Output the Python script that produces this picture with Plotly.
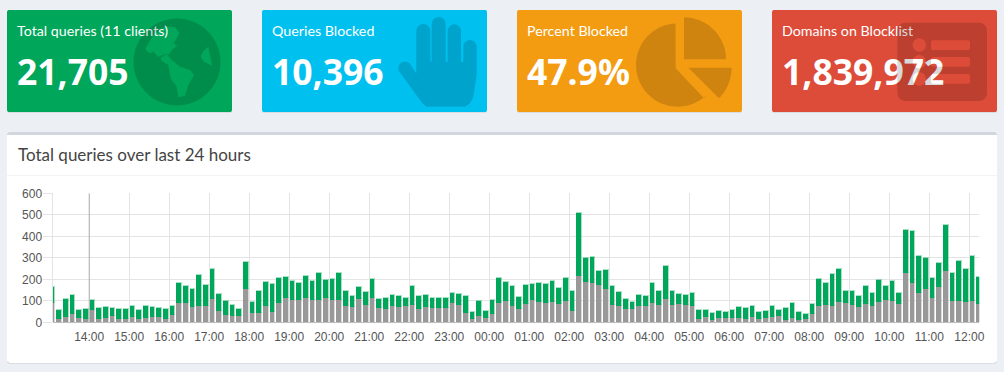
import math
import pandas as pd
import plotly.graph_objects as go

W, H = 1004, 372

card_titles = ["Total queries (11 clients)", "Queries Blocked", "Percent Blocked", "Domains on Blocklist"]
card_values = ["21,705", "10,396", "47.9%", "1,839,972"]
card_colors = ["#00a65a", "#00c0ef", "#f39c12", "#dd4b39"]
chart_title = "Total queries over last 24 hours"

blocked = [88,16,25,39,20,14,56,16,20,28,16,14,23,16,20,23,22,14,33,88,90,71,76,74,107,53,31,28,28,153,
           42,42,74,48,88,113,102,102,110,101,101,113,102,102,76,71,107,81,113,65,59,74,71,74,81,62,71,67,67,67,
           88,79,42,14,29,20,39,90,98,74,62,84,104,95,90,95,84,96,53,215,188,183,170,155,79,76,62,62,74,74,
           90,79,108,81,85,81,73,16,25,11,17,19,20,20,16,22,14,19,25,26,11,20,11,16,39,76,81,76,93,88,
           81,68,85,76,95,102,99,85,228,183,135,155,113,164,239,99,99,95,99,85]
total = [163,57,108,124,57,62,104,64,70,67,62,60,73,57,76,68,67,62,73,181,166,153,217,174,246,129,96,78,59,277,
         95,143,184,175,203,208,192,180,215,189,226,197,201,228,143,119,164,140,198,108,112,126,119,113,167,121,127,113,113,113,
         136,132,119,46,96,53,102,206,184,169,118,172,177,181,175,191,160,206,146,505,299,304,239,242,169,138,105,95,126,122,
         183,143,262,144,129,127,133,54,56,42,51,48,57,70,67,73,46,51,74,54,65,90,46,39,85,200,181,225,246,143,
         144,122,166,135,197,166,192,136,428,423,307,298,203,274,451,228,284,245,307,208]
permitted = [t - b for t, b in zip(total, blocked)]
times = pd.date_range("2024-01-01 13:05", periods=len(total), freq="10min")

BG = "#ecf0f5"
ICON = "rgba(0,0,0,0.15)"

def fx(px): return px / W
def fy(py): return 1 - py / H

def poly(pts):
    return "M" + " L".join(f"{fx(x):.5f},{fy(y):.5f}" for x, y in pts) + " Z"

def arc(cx, cy, r, a0, a1, n=24):
    # angles in degrees, clockwise on screen from +x axis
    return [(cx + r * math.cos(math.radians(a0 + (a1 - a0) * i / n)),
             cy + r * math.sin(math.radians(a0 + (a1 - a0) * i / n))) for i in range(n + 1)]

def rrect(x0, y0, x1, y1, r):
    return poly(arc(x0 + r, y0 + r, r, 180, 270, 5) + arc(x1 - r, y0 + r, r, 270, 360, 5)
                + arc(x1 - r, y1 - r, r, 0, 90, 5) + arc(x0 + r, y1 - r, r, 90, 180, 5))

shapes = []
def add(path, fill, layer="below"):
    shapes.append(dict(type="path", path=path, xref="paper", yref="paper", fillcolor=fill,
                       line=dict(width=0), layer=layer))

# cards
card_x = [7, 262, 517, 772]
for x, c in zip(card_x, card_colors):
    add(rrect(x, 11, x + 225, 113, 2), "#d8dce3")
    add(rrect(x, 10, x + 225, 112, 2), c)

# chart box
add(rrect(7, 133, 997, 364, 3), "#d8dce3")
add(rrect(7, 132, 997, 363, 3), "#d2d6de")
add(poly([(7, 135), (997, 135), (997, 361), (994, 363), (10, 363), (7, 361)]), "#ffffff")
add(poly([(7, 175), (997, 175), (997, 176), (7, 176)]), "#f4f4f4")

# globe icon
def z6(pts): return [(130 + x / 3, 15 + y / 3) for x, y in pts]
globe = poly(arc(177, 62, 43.5, 0, 360, 60))
na = [(46,100),(70,60),(105,35),(135,36),(148,55),(140,70),(130,85),(142,92),(128,102),(118,118),(105,118),(85,125),(70,110),(60,115),(50,108)]
sa = [(92,128),(110,118),(125,135),(150,155),(180,165),(192,180),(175,210),(165,243),(145,246),(140,215),(122,190),(115,150),(95,138)]
ea = [(235,95),(246,152),(222,140),(212,125),(220,108)]
add(globe + poly(z6(na)) + poly(z6(sa)) + poly(z6(ea)), ICON, "above")

# hand icon
def z7(pts): return [(395 + x / 3, 15 + y / 3) for x, y in pts]
hand = (arc(30, 160, 20, 130, 320, 12) + [(64, 176), (64, 48)] + arc(85, 48, 21, 180, 360, 12)
        + [(106, 140), (110, 140)] + arc(131, 27, 21, 180, 360, 12)
        + [(152, 140), (158, 140)] + arc(178, 48, 20, 180, 360, 12)
        + [(198, 140), (205, 140)] + arc(225, 95, 20, 180, 360, 12)
        + [(245, 180), (235, 245), (225, 265), (210, 275), (95, 275), (82, 265)])
add(poly(z7(hand)), ICON, "above")

# pie icon
def z2(pts): return [(500 + x / 3, y / 3) for x, y in pts]
main_pie = [(527, 205)] + arc(533, 195, 125, 267, 45, 50) + [(612, 295)]
add(poly(z2(main_pie)), ICON, "above")
add(poly(z2([(552, 178)] + arc(552, 178, 126, 270, 360, 20))), ICON, "above")
add(poly(z2([(565, 203)] + arc(565, 203, 130, 0, 45, 12))), ICON, "above")

# list icon
def z2p(x0, y0, x1, y1, r): return rrect(500 + x0 / 3, y0 / 3, 500 + x1 / 3, y1 / 3, r)
lst = z2p(1192, 68, 1461, 303, 8)
for cy in (135, 185, 237):
    lst += poly(z2(arc(1258, cy, 20, 0, 360, 24)))
for y0 in (121, 171, 222):
    lst += z2p(1293, y0, 1410, y0 + 29, 2)
add(lst, ICON, "above")

fig = go.Figure()

# main chart
BAR_W = 7 * 60000
fig.add_bar(x=times, y=blocked, name="Blocked", marker=dict(color="#999999", line=dict(color="rgba(153,153,153,0.35)", width=1)),
            width=BAR_W)
fig.add_bar(x=times, y=permitted, name="Permitted", marker=dict(color="#00a65a", line=dict(color="rgba(0,166,90,0.35)", width=1)),
            width=BAR_W)

# 14:00 line
shapes.append(dict(type="line", xref="x", yref="y", x0="2024-01-01 14:00", x1="2024-01-01 14:00", y0=0, y1=600,
                   line=dict(color="rgba(0,0,0,0.25)", width=1), layer="above"))

# overlay texts
for x, title, value in zip(card_x, card_titles, card_values):
    fig.add_scatter(x=[x + 10], y=[32], text=[title], mode="text", textposition="middle right",
                    textfont=dict(family="Lato", size=14.25, color="#ffffff"), xaxis="x2", yaxis="y2",
                    showlegend=False, hoverinfo="skip")
    fig.add_scatter(x=[x + 10], y=[76], text=[value], mode="text", textposition="middle right",
                    textfont=dict(family="Noto Sans", size=35.5, color="#ffffff", weight=700), xaxis="x2", yaxis="y2",
                    showlegend=False, hoverinfo="skip")
fig.add_scatter(x=[18], y=[156.5], text=[chart_title], mode="text", textposition="middle right",
                textfont=dict(family="Lato", size=17, color="#444444"), xaxis="x2", yaxis="y2",
                showlegend=False, hoverinfo="skip")

GRID = "#e4e4e4"
TICK = "#555555"
fig.update_layout(
    width=W, height=H, margin=dict(l=0, r=0, t=0, b=0, pad=0, autoexpand=False), autosize=False,
    paper_bgcolor=BG, plot_bgcolor="rgba(0,0,0,0)", barmode="stack", bargap=0, showlegend=False,
    shapes=shapes,
    xaxis=dict(domain=[52.5 / W, 979.3 / W], type="date", range=["2024-01-01 13:05", "2024-01-02 12:15"],
               tick0="2024-01-01 14:00", dtick=3600000, tickformat="%H:%M", showgrid=True, gridcolor=GRID, gridwidth=1,
               ticks="", ticklen=0, showline=False, anchor="y", ticklabelstandoff=6,
               tickfont=dict(family="Liberation Sans", size=12, color=TICK), fixedrange=True),
    yaxis=dict(domain=[1 - 322.3 / H, 1 - 193.3 / H], range=[0, 600], dtick=100, tick0=0, showgrid=True, gridcolor=GRID,
               gridwidth=1, ticks="outside", ticklen=9, tickcolor=GRID, showline=True, linecolor=GRID, linewidth=1,
               zeroline=True, zerolinecolor="#bbbbbb", zerolinewidth=1, anchor="x", ticklabelstandoff=-2,
               tickfont=dict(family="Liberation Sans", size=12, color=TICK), fixedrange=True),
    xaxis2=dict(domain=[0, 1], range=[0, W], visible=False, anchor="y2", fixedrange=True),
    yaxis2=dict(domain=[0, 1], range=[H, 0], visible=False, anchor="x2", fixedrange=True),
)

fig.write_html("out.html", config=dict(displayModeBar=False),
               post_script="document.body.style.margin='0';document.body.style.overflow='hidden';document.body.style.background='#ecf0f5';")
